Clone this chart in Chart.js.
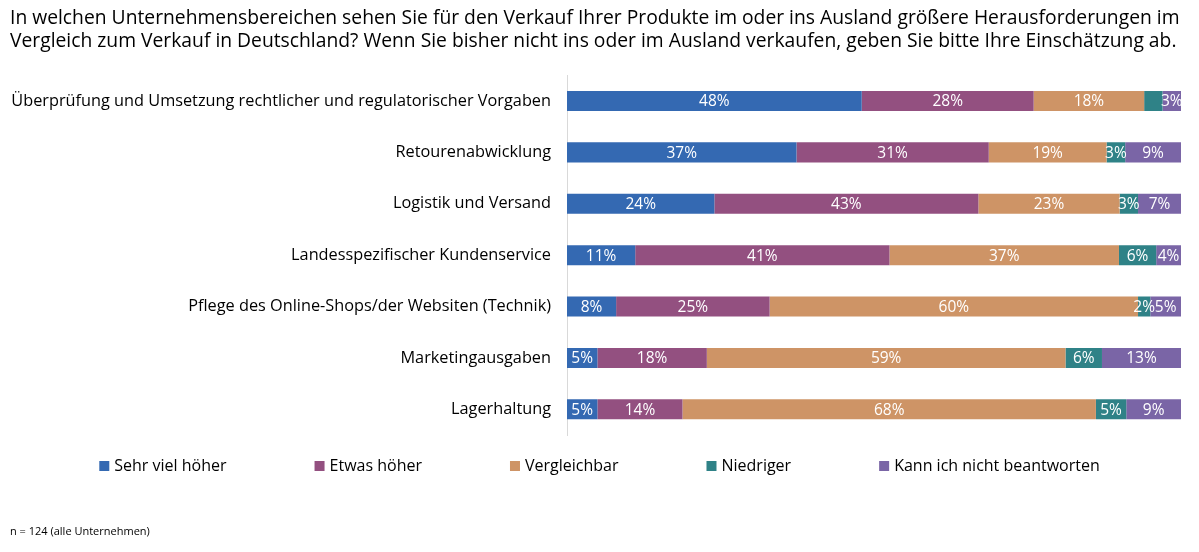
<!DOCTYPE html>
<html lang="de">
<head>
<meta charset="utf-8">
<title>Herausforderungen Auslandsverkauf</title>
<script src="https://cdn.jsdelivr.net/npm/chart.js@4.4.1/dist/chart.umd.min.js"></script>
<style>
    html, body { margin: 0; padding: 0; background: #fff; }
    #wrap { width: 1199px; height: 552px; position: relative; }
</style>
</head>
<body>
<div id="wrap"><canvas id="chart"></canvas></div>
<script>
// --- DATA ---
const categories = [
    "Überprüfung und Umsetzung rechtlicher und regulatorischer Vorgaben",
    "Retourenabwicklung",
    "Logistik und Versand",
    "Landesspezifischer Kundenservice",
    "Pflege des Online-Shops/der Websiten (Technik)",
    "Marketingausgaben",
    "Lagerhaltung"
];
const seriesNames = ["Sehr viel höher", "Etwas höher", "Vergleichbar", "Niedriger", "Kann ich nicht beantworten"];
const sehrViel     = [48, 37, 24, 11,  8,  5,  5];
const etwas        = [28, 31, 43, 41, 25, 18, 14];
const vergleichbar = [18, 19, 23, 37, 60, 59, 68];
const niedriger    = [ 3,  3,  3,  6,  2,  6,  5];
const kannNicht    = [ 3,  9,  7,  4,  5, 13,  9];
const titleLines = [
    "In welchen Unternehmensbereichen sehen Sie für den Verkauf Ihrer Produkte im oder ins Ausland größere Herausforderungen im",
    "Vergleich zum Verkauf in Deutschland? Wenn Sie bisher nicht ins oder im Ausland verkaufen, geben Sie bitte Ihre Einschätzung ab."
];
const footnote = "n = 124 (alle Unternehmen)";
// label not printed in the original (row, series)
const hiddenLabels = [[0, 3]];

const colors = ["#3469b2", "#935080", "#ce9466", "#2f8287", "#7a65a6"];
const FONT = "'Open Sans', sans-serif";

// --- BUILD DATASETS (100 % stacked) ---
const raw = [sehrViel, etwas, vergleichbar, niedriger, kannNicht];
const rowSums = categories.map((_, i) => raw.reduce((s, arr) => s + arr[i], 0));
const datasets = raw.map((arr, k) => ({
    label: seriesNames[k],
    data: arr.map((v, i) => v / rowSums[i] * 100),
    rawValues: arr,
    backgroundColor: colors[k],
    borderWidth: 0,
    barPercentage: 0.78,
    categoryPercentage: 0.5
}));

// --- PLUGINS ---
const segmentLabels = {
    id: 'segmentLabels',
    afterDatasetsDraw(chart) {
        const ctx = chart.ctx;
        ctx.save();
        ctx.font = "15.5px " + FONT;
        ctx.fillStyle = "#fff";
        ctx.textAlign = "center";
        ctx.textBaseline = "middle";
        chart.data.datasets.forEach((ds, k) => {
            chart.getDatasetMeta(k).data.forEach((bar, i) => {
                if (hiddenLabels.some(h => h[0] === i && h[1] === k)) return;
                const x = (bar.base + bar.x) / 2;
                ctx.fillText(ds.rawValues[i] + "%", x, bar.y + 1);
            });
        });
        ctx.restore();
    }
};

const legendAndNote = {
    id: 'legendAndNote',
    afterDraw(chart) {
        const ctx = chart.ctx;
        ctx.save();
        ctx.font = "16px " + FONT;
        ctx.textBaseline = "middle";
        const gap = 88, box = 10, boxGap = 5;
        const widths = chart.data.datasets.map(ds => box + boxGap + ctx.measureText(ds.label).width);
        const total = widths.reduce((a, b) => a + b, 0) + gap * (widths.length - 1);
        let x = (chart.width - total) / 2;
        const y = 466;
        chart.data.datasets.forEach((ds, k) => {
            ctx.fillStyle = ds.backgroundColor;
            ctx.fillRect(x, y - box / 2, box, box);
            ctx.fillStyle = "#000";
            ctx.fillText(ds.label, x + box + boxGap, y);
            x += widths[k] + gap;
        });
        ctx.font = "11px " + FONT;
        ctx.fillText(footnote, 10, 532);
        ctx.restore();
    }
};

// --- CHART ---
new Chart(document.getElementById("chart"), {
    type: "bar",
    data: { labels: categories, datasets },
    plugins: [segmentLabels, legendAndNote],
    options: {
        indexAxis: "y",
        responsive: true,
        maintainAspectRatio: false,
        animation: false,
        layout: { padding: { left: 10, right: 18, top: 7, bottom: 117 } },
        plugins: {
            legend: { display: false },
            tooltip: { enabled: false },
            title: {
                display: true,
                text: titleLines,
                align: "start",
                color: "#000",
                font: { family: FONT, size: 19.3, weight: "normal", lineHeight: 1.2 },
                padding: { top: 0, bottom: 22 }
            }
        },
        scales: {
            x: { stacked: true, min: 0, max: 100, display: false },
            y: {
                stacked: true,
                grid: { display: false, drawTicks: false },
                border: { display: true, color: "#d9d9d9", width: 1 },
                ticks: { color: "#000", padding: 16, font: { family: FONT, size: 16.3 } },
                afterFit(scale) { scale.width = 557; }
            }
        }
    }
});
</script>
</body>
</html>
